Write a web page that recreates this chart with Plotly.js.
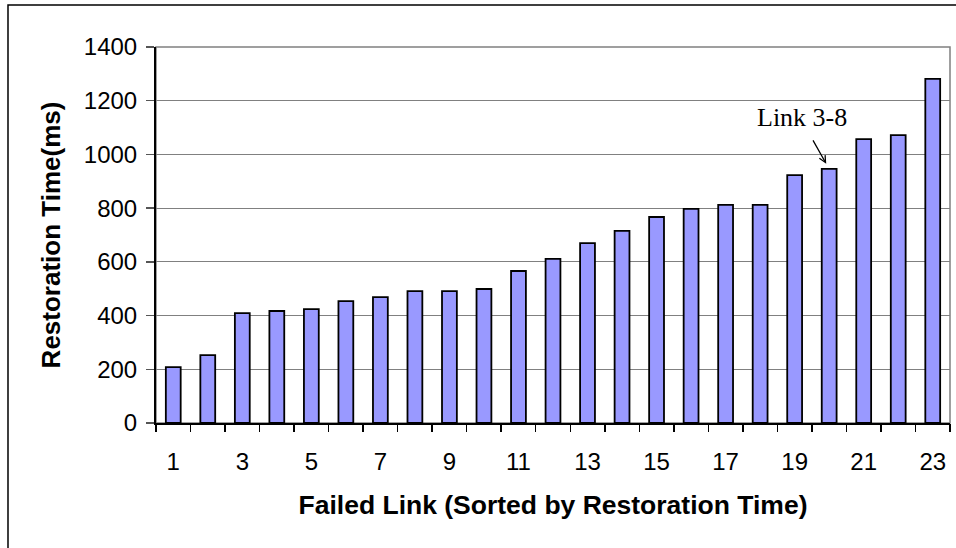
<!DOCTYPE html>
<html>
<head>
<meta charset="utf-8">
<script src="https://cdn.plot.ly/plotly-3.0.1.min.js"></script>
<style>
html,body{margin:0;padding:0;background:#fff;}
#chart{width:956px;height:548px;}
</style>
</head>
<body>
<div id="chart"></div>
<script>
// Data
const linkIndex = [1,2,3,4,5,6,7,8,9,10,11,12,13,14,15,16,17,18,19,20,21,22,23];
const restorationTime = [208,253,409,417,424,454,469,491,491,499,566,611,670,715,767,797,812,812,923,946,1057,1072,1281];
const xTickVals = [1,3,5,7,9,11,13,15,17,19,21,23];
const xTickText = ["1","3","5","7","9","11","13","15","17","19","21","23"];
const boundaryTicks = [0.5,1.5,2.5,3.5,4.5,5.5,6.5,7.5,8.5,9.5,10.5,11.5,12.5,13.5,14.5,15.5,16.5,17.5,18.5,19.5,20.5,21.5,22.5,23.5];
const yTickVals = [0,200,400,600,800,1000,1200,1400];
const annotLink = 20;
const annotValue = 946;

const FONT = "Arial, 'Liberation Sans', sans-serif";

const traces = [{
  type: 'bar',
  x: linkIndex,
  y: restorationTime,
  width: 0.43,
  marker: {color: '#9999FF', line: {color: '#000000', width: 1.8}},
  hoverinfo: 'x+y',
  xaxis: 'x', yaxis: 'y'
}, {
  // invisible helper trace to activate the boundary-tick axis
  type: 'scatter', mode: 'none',
  x: [boundaryTicks[0], boundaryTicks[boundaryTicks.length-1]],
  y: [0, 0],
  xaxis: 'x2', yaxis: 'y',
  hoverinfo: 'skip', showlegend: false
}];

const layout = {
  width: 956, height: 548,
  margin: {l: 156, r: 6, t: 47, b: 125, pad: 0},
  paper_bgcolor: '#ffffff', plot_bgcolor: '#ffffff',
  showlegend: false,
  font: {family: FONT, color: '#000000', size: 24},
  xaxis: {
    range: [0.5, 23.5],
    tickmode: 'array', tickvals: xTickVals, ticktext: xTickText,
    ticks: '', showgrid: false, zeroline: false,
    showline: true, linecolor: '#000000', linewidth: 2,
    tickfont: {family: FONT, size: 24, color: '#000000'},
    ticklabelstandoff: 16,
    title: {text: '<b>Failed Link (Sorted by Restoration Time)</b>', font: {family: FONT, size: 26.5, color: '#000'}, standoff: 22},
    fixedrange: true
  },
  xaxis2: {
    overlaying: 'x', anchor: 'y', side: 'bottom',
    range: [0.5, 23.5],
    tickmode: 'array', tickvals: boundaryTicks, ticktext: boundaryTicks.map(() => ''),
    ticks: 'outside', ticklen: 8, tickwidth: 1.5, tickcolor: '#000000',
    showgrid: false, zeroline: false, showline: false,
    fixedrange: true
  },
  yaxis: {
    range: [0, 1400],
    tickmode: 'array', tickvals: yTickVals,
    ticks: 'outside', ticklen: 8, tickwidth: 1.5, tickcolor: '#555555',
    showgrid: true, gridcolor: '#808080', gridwidth: 1,
    zeroline: false,
    showline: true, linecolor: '#000000', linewidth: 2,
    tickfont: {family: FONT, size: 24, color: '#000000'},
    ticklabelstandoff: 4,
    title: {text: '<b>Restoration Time(ms)</b>', font: {family: FONT, size: 26, color: '#000'}, standoff: 16},
    fixedrange: true
  },
  shapes: [
    // plot area border (grey, top and right)
    {type: 'rect', xref: 'paper', yref: 'paper', x0: 0, x1: 1, y0: 0, y1: 1,
     line: {color: '#808080', width: 1.5}, fillcolor: 'rgba(0,0,0,0)', layer: 'below'},
    // outer chart frame
    {type: 'rect', xref: 'paper', yref: 'paper', x0: -0.1864, x1: 1.2, y0: -0.6, y1: 1.1117,
     line: {color: '#000000', width: 1.5}, fillcolor: 'rgba(0,0,0,0)'}
  ],
  annotations: [
    {x: annotLink, y: annotValue, xref: 'x', yref: 'y', text: '',
     showarrow: true, arrowhead: 5, arrowsize: 1, arrowwidth: 1.3, arrowcolor: '#000',
     ax: -17, ay: -30, standoff: 6},
    {x: annotLink - 0.8, y: 1137, xref: 'x', yref: 'y',
     text: 'Link 3-8', showarrow: false,
     font: {family: "'Times New Roman', 'Liberation Serif', serif", size: 26, color: '#000'},
     xanchor: 'center', yanchor: 'middle'}
  ]
};

Plotly.newPlot('chart', traces, layout, {displayModeBar: false, staticPlot: true});
</script>
</body>
</html>
